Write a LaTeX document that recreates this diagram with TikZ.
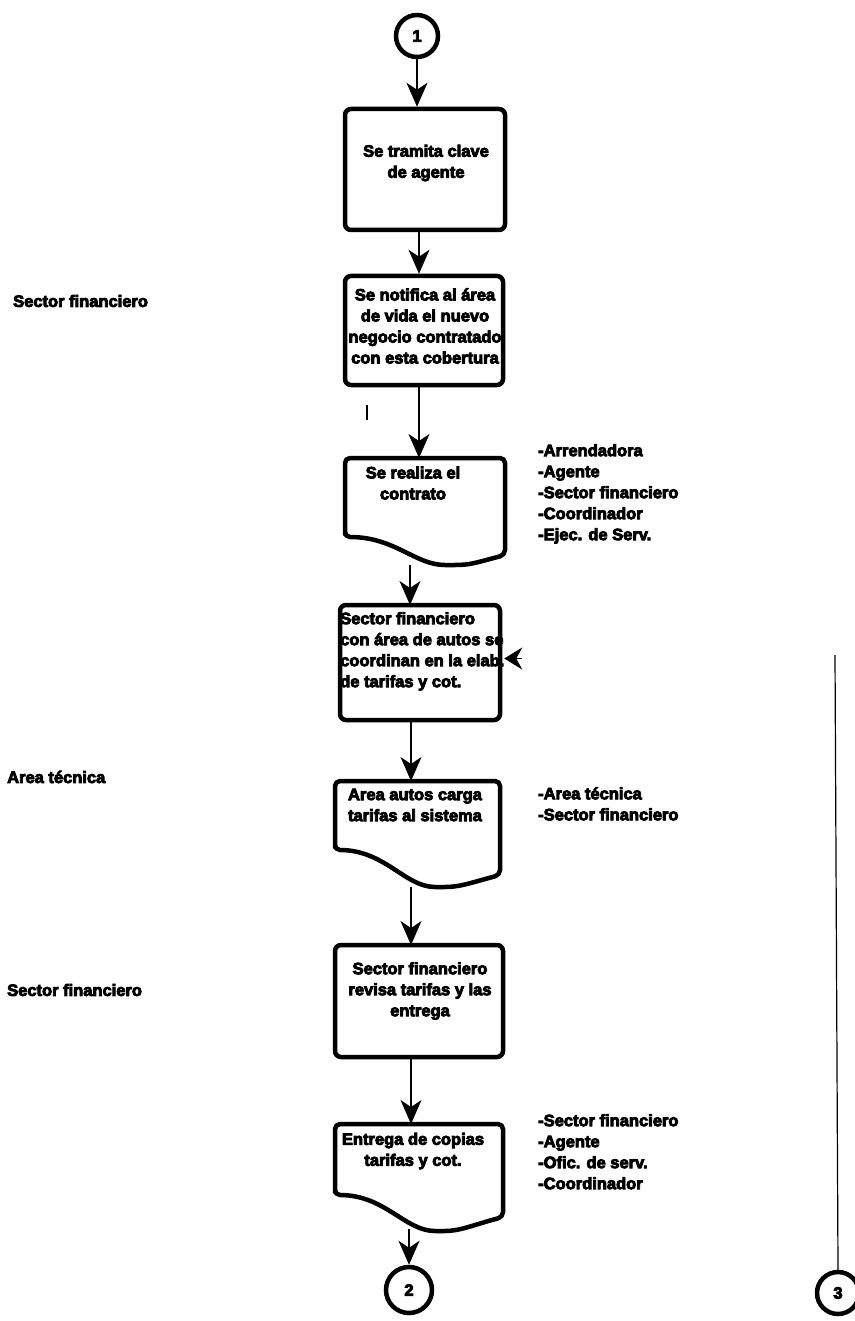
\documentclass[tikz,border=0pt]{standalone}
\usepackage{fontspec}
\setmainfont{Liberation Sans}
\newfontfamily\labfont[FakeBold=5]{Liberation Sans Bold}
\usetikzlibrary{arrows.meta,calc}

\tikzset{
  every node/.style={font=\labfont\fontsize{16.5}{21}\selectfont, inner sep=0pt},
  stepbox/.style={draw, line width=4.5pt, rounded corners=6pt},
  docline/.style={line width=4.5pt, rounded corners=5pt, line join=round},
  bigtip/.style={-{Stealth[length=24pt,width=21pt,inset=7pt]}},
  conn/.style={line width=1.3pt, bigtip},
  ctext/.style={align=center},
  ltext/.style={align=left, anchor=west},
  onpage/.style={circle, draw, line width=4.5pt, inner sep=0pt},
}

% document symbol: left x, top y, right x, left-bottom y, trough y, right-bottom y, name
\newcommand\docsymbol[7]{%
  \draw[docline] (#1,#4) -- (#1,#2) -- (#3,#2) -- (#3,#6)
    .. controls (#3-30,#6+8) and (#1+125,#5) .. (#1+105,#5)
    .. controls (#1+70,#5) and (#1+50,#4) .. (#1,#4) -- cycle;
  \coordinate (#7n) at ({(#1+#3)/2},#2);
}

\begin{document}
\begin{tikzpicture}[x=1pt,y=-1pt]
\useasboundingbox (0,0) rectangle (854,1321);
\fill[white] (0,0) rectangle (854,1321);

% off-page connectors
\node[onpage, minimum size=42pt] (c1) at (417,36) {1};
\node[onpage, minimum size=46pt] (c2) at (409,1290) {2};
\node[onpage, minimum size=42pt] (c3) at (838,1293) {3};
\coordinate (c3top) at (835,655);

% process boxes
\node[stepbox, minimum width=160pt, minimum height=121pt] (b1) at (425,169.5) {};
\node[stepbox, minimum width=158pt, minimum height=109pt] (b2) at (424,330.5) {};
\node[stepbox, minimum width=160pt, minimum height=115pt] (b3) at (420,662.5) {};
\node[stepbox, minimum width=168pt, minimum height=112pt] (b4) at (419,1001) {};

% documents
\docsymbol{345}{458}{505}{537}{565}{555}{d1}
\docsymbol{335}{781}{500}{850}{887}{875}{d2}
\docsymbol{335}{1124}{503}{1195}{1231}{1217}{d3}

% texts inside the shapes
\node[ctext] (t1) at (426,163) {Se tramita clave\\de agente};
\node[ctext] (t2) at (425,326) {Se notifica al área\\de vida el nuevo\\negocio contratado\\con esta cobertura};
\node[ctext] (t3) at (413,483) {Se realiza el\\contrato};
\node[align=left, anchor=north west] (t4) at (340,612) {Sector financiero\\con área de autos se\\coordinan en la elab.\\de tarifas y cot.};
\node[ctext] (t5) at (415,805) {Area autos carga\\tarifas al sistema};
\node[ctext] (t6) at (420,991) {Sector financiero\\revisa tarifas y las\\entrega};
\node[ctext] (t7) at (413,1151) {Entrega de copias\\tarifas y cot.};

% side labels
\node[ltext] (l1) at (13,301) {Sector financiero};
\node[ltext] (l2) at (7,777) {Area técnica};
\node[ltext] (l3) at (7,990) {Sector financiero};

\node[align=left, anchor=north west] (r1) at (538,444) {-Arrendadora\\-Agente\\-Sector financiero\\-Coordinador\\-Ejec. de Serv.};
\node[align=left, anchor=north west] (r2) at (538,787) {-Area técnica\\-Sector financiero};
\node[align=left, anchor=north west] (r3) at (538,1114) {-Sector financiero\\-Agente\\-Ofic. de serv.\\-Coordinador};

% connectors
\draw[conn] (c1.south) -- (c1.south |- b1.north);
\draw[conn] ([xshift=-6pt]b1.south) -- ([xshift=-6pt]b1.south |- b2.north);
\draw[conn] ([xshift=-5pt]b2.south) -- ([xshift=-5pt]b2.south |- d1n);
\draw[conn] (410,565) -- (410,605);
\draw[conn] ([xshift=-9pt]b3.south) -- ([xshift=-9pt]b3.south |- d2n);
\draw[conn] (411,887) -- (411,945);
\draw[conn] ([xshift=-8pt]b4.south) -- ([xshift=-8pt]b4.south |- d3n);
\draw[conn] (409,1229) -- (c2.north);
\draw[line width=1.2pt] (c3top) -- (c3.north);

% incoming tip at the right side of b3
\draw[line width=1.3pt, -{Stealth[length=18pt,width=22pt,inset=6pt]}] ([xshift=20pt,yshift=4pt]b3.east) -- ([xshift=2pt,yshift=4pt]b3.east);

% small tick below b2
\draw[line width=1.2pt] (367,405) -- (367,420);
\end{tikzpicture}
\end{document}
